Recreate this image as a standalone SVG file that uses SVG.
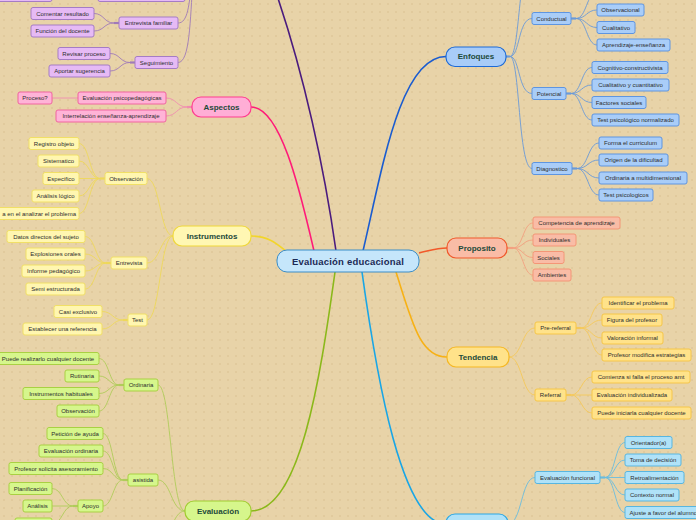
<svg xmlns="http://www.w3.org/2000/svg" width="696" height="520" viewBox="0 0 696 520">
<defs>
<pattern id="dots" width="8" height="8" patternUnits="userSpaceOnUse"><circle cx="4" cy="4" r="0.8" fill="#d8bf90"/></pattern>
<style>
.t{font-family:"Liberation Sans",Arial,sans-serif;font-size:6px;fill:#2d2d2d;text-anchor:middle;dominant-baseline:central}
.mt{font-family:"Liberation Sans",Arial,sans-serif;font-size:8px;font-weight:bold;fill:#1e4a3a;text-anchor:middle;dominant-baseline:central}
.ct{font-family:"Liberation Sans",Arial,sans-serif;font-size:9.5px;font-weight:bold;fill:#1c2a55;text-anchor:middle;dominant-baseline:central;letter-spacing:0.2px}
rect{stroke-width:1}
.pu{fill:#e6baf5;stroke:#a57cc4}
.pk{fill:#ffb3d7;stroke:#f0659f}
.pkm{fill:#ffaed6;stroke:#ff3c90;stroke-width:1.2}
.ye{fill:#fff6b0;stroke:#f1df66}
.yem{fill:#fff7b3;stroke:#f0d83a;stroke-width:1.2}
.gr{fill:#d6f68c;stroke:#a9d043}
.grm{fill:#d6f68c;stroke:#a0cc30;stroke-width:1.2}
.bl{fill:#a9cdf8;stroke:#5e95e0}
.blm{fill:#a8ccf8;stroke:#1d6ad6;stroke-width:1.2}
.or{fill:#f9bca6;stroke:#f49676}
.orm{fill:#f9bca6;stroke:#f0582a;stroke-width:1.2}
.ta{fill:#ffe28a;stroke:#f6c649}
.tam{fill:#ffe28a;stroke:#f6b823;stroke-width:1.2}
.cy{fill:#b0e2f8;stroke:#58b6e0}
.cym{fill:#b0e2f8;stroke:#2aa8e6;stroke-width:1.2}
#connectors path{fill:none}
.c-pu{stroke:#a07ab8;stroke-width:0.9}
.c-pk{stroke:#f08cb0;stroke-width:0.9}
.c-ye{stroke:#eed85a;stroke-width:0.9}
.c-gr{stroke:#b0cc5a;stroke-width:0.9}
.c-bl{stroke:#6a9ad8;stroke-width:0.9}
.c-or{stroke:#f3a080;stroke-width:0.9}
.c-ta{stroke:#f5c85a;stroke-width:0.9}
.c-cy{stroke:#6abcdf;stroke-width:0.9}
.k{stroke-width:2.2!important}
</style>
</defs>
<rect x="0" y="0" width="696" height="520" fill="#e8d3a8"/>
<rect x="0" y="0" width="696" height="520" fill="url(#dots)"/>

<g id="connectors">
<!-- main branches -->
<path d="M336,251 C326,180 305,70 268,-30" stroke="#4b1b7e" stroke-width="1.6"/>
<path d="M251,107 C282,107 302,200 314,251" stroke="#ff1a78" stroke-width="1.6"/>
<path d="M251,236 C268,236 276,243 286,251" stroke="#f2d52a" stroke-width="1.6"/>
<path d="M363,251 C382,170 400,56.5 446,56.5" stroke="#1a5cd0" stroke-width="1.6"/>
<path d="M419,253 C432,250 437,248 447,248" stroke="#f2592a" stroke-width="1.6"/>
<path d="M396,272 C412,322 420,357 447,357" stroke="#f7b115" stroke-width="1.6"/>
<path d="M335,272 C320,380 300,511 251,511" stroke="#8bb81a" stroke-width="1.6"/>
<path d="M362,272 C377,380 402,524 446,524" stroke="#19a6e6" stroke-width="1.6"/>

<!-- purple -->
<path class="c-pu" d="M178,23 C188,23 189,5 192,-20"/>
<path class="c-pu" d="M178,62.5 C190,62.5 190,20 193,-20"/>
<path class="c-pu k" d="M119,23 H114"/>
<path class="c-pu" d="M114,23 C104,23 104,13.5 94,13.5"/>
<path class="c-pu" d="M114,23 C104,23 104,31 94,31"/>
<path class="c-pu k" d="M135,62.5 H130"/>
<path class="c-pu" d="M130,62.5 C120,62.5 120,53.5 110,53.5"/>
<path class="c-pu" d="M130,62.5 C120,62.5 120,71 110,71"/>

<!-- pink -->
<path class="c-pk k" d="M192,107 H187"/>
<path class="c-pk" d="M187,107 C176.5,107 176.5,98 166,98"/>
<path class="c-pk" d="M187,107 C176.5,107 176.5,116 166,116"/>
<path class="c-pk" d="M78,98 H52"/>

<!-- yellow -->
<path class="c-ye" d="M173,236 C160,236 160,178.5 147,178.5"/>
<path class="c-ye" d="M173,236 C160,236 160,263 147,263"/>
<path class="c-ye" d="M173,236 C160,236 160,320 147,320"/>
<path class="c-ye k" d="M105,178.5 H100"/>
<path class="c-ye" d="M100,178.5 C89.5,178.5 89.5,143.5 79,143.5"/>
<path class="c-ye" d="M100,178.5 C89.5,178.5 89.5,161 79,161"/>
<path class="c-ye" d="M100,178.5 H79"/>
<path class="c-ye" d="M100,178.5 C89.5,178.5 89.5,196 79,196"/>
<path class="c-ye" d="M100,178.5 C89.5,178.5 89.5,213.5 79,213.5"/>
<path class="c-ye k" d="M111,263 H106"/>
<path class="c-ye" d="M106,263 C95.5,263 95.5,236.5 85,236.5"/>
<path class="c-ye" d="M106,263 C95.5,263 95.5,254 85,254"/>
<path class="c-ye" d="M106,263 C95.5,263 95.5,271 85,271"/>
<path class="c-ye" d="M106,263 C95.5,263 95.5,289 85,289"/>
<path class="c-ye k" d="M128,320 H123"/>
<path class="c-ye" d="M123,320 C112.5,320 112.5,311.5 102,311.5"/>
<path class="c-ye" d="M123,320 C112.5,320 112.5,329 102,329"/>

<!-- green -->
<path class="c-gr" d="M185,511 C171,511 171,385 158,385"/>
<path class="c-gr" d="M185,511 C171,511 171,480 158,480"/>
<path class="c-gr" d="M185,511 C171,511 171,545 158,545"/>
<path class="c-gr k" d="M124,385 H119"/>
<path class="c-gr" d="M119,385 C109,385 109,358.5 99,358.5"/>
<path class="c-gr" d="M119,385 C109,385 109,376 99,376"/>
<path class="c-gr" d="M119,385 C109,385 109,393.5 99,393.5"/>
<path class="c-gr" d="M119,385 C109,385 109,411 99,411"/>
<path class="c-gr k" d="M128,480 H123"/>
<path class="c-gr" d="M123,480 C113,480 113,433.5 103,433.5"/>
<path class="c-gr" d="M123,480 C113,480 113,451 103,451"/>
<path class="c-gr" d="M123,480 C113,480 113,468.5 103,468.5"/>
<path class="c-gr" d="M123,480 C113,480 113,506 103,506"/>
<path class="c-gr k" d="M78,506 H73"/>
<path class="c-gr" d="M73,506 C62.5,506 62.5,488.5 52,488.5"/>
<path class="c-gr" d="M73,506 H52"/>
<path class="c-gr" d="M73,506 C62.5,506 62.5,524 52,524"/>

<!-- blue -->
<path class="c-bl k" d="M506,56.5 H510"/>
<path class="c-bl" d="M510,56.5 C520,56.5 518,-40 532,-40"/>
<path class="c-bl" d="M510,56.5 C520,56.5 518,18.5 532,18.5"/>
<path class="c-bl" d="M510,56.5 C520,56.5 518,93.5 532,93.5"/>
<path class="c-bl" d="M510,56.5 C520,56.5 518,168.5 532,168.5"/>
<path class="c-bl k" d="M571,18.5 H576"/>
<path class="c-bl" d="M576,18.5 C586.5,18.5 586.5,-7.5 597,-7.5"/>
<path class="c-bl" d="M576,18.5 C586.5,18.5 586.5,10 597,10"/>
<path class="c-bl" d="M576,18.5 C586.5,18.5 586.5,27.5 597,27.5"/>
<path class="c-bl" d="M576,18.5 C586.5,18.5 586.5,45 597,45"/>
<path class="c-bl k" d="M566,93.5 H571"/>
<path class="c-bl" d="M571,93.5 C581.5,93.5 581.5,67.5 592,67.5"/>
<path class="c-bl" d="M571,93.5 C581.5,93.5 581.5,85 592,85"/>
<path class="c-bl" d="M571,93.5 C581.5,93.5 581.5,102.5 592,102.5"/>
<path class="c-bl" d="M571,93.5 C581.5,93.5 581.5,120 592,120"/>
<path class="c-bl k" d="M572,168.5 H577"/>
<path class="c-bl" d="M577,168.5 C588,168.5 588,143 599,143"/>
<path class="c-bl" d="M577,168.5 C588,168.5 588,160 599,160"/>
<path class="c-bl" d="M577,168.5 C588,168.5 588,178 599,178"/>
<path class="c-bl" d="M577,168.5 C588,168.5 588,195 599,195"/>

<!-- proposito -->
<path class="c-or k" d="M507,248 H513"/>
<path class="c-or" d="M513,248 C523,248 523,223 533,223"/>
<path class="c-or" d="M513,248 C523,248 523,240 533,240"/>
<path class="c-or" d="M513,248 C523,248 523,257.5 533,257.5"/>
<path class="c-or" d="M513,248 C523,248 523,275 533,275"/>

<!-- tendencia -->
<path class="c-ta" d="M509,357 C522,357 522,328 535,328"/>
<path class="c-ta" d="M509,357 C522,357 522,395 535,395"/>
<path class="c-ta k" d="M576,328 H581"/>
<path class="c-ta" d="M581,328 C591.5,328 591.5,303 602,303"/>
<path class="c-ta" d="M581,328 C591.5,328 591.5,320 602,320"/>
<path class="c-ta" d="M581,328 C591.5,328 591.5,338 602,338"/>
<path class="c-ta" d="M581,328 C591.5,328 591.5,355 602,355"/>
<path class="c-ta k" d="M566,395 H571"/>
<path class="c-ta" d="M571,395 C581.5,395 581.5,377 592,377"/>
<path class="c-ta" d="M571,395 H592"/>
<path class="c-ta" d="M571,395 C581.5,395 581.5,413 592,413"/>

<!-- cyan -->
<path class="c-cy" d="M508,524 C522,524 521,477.5 535,477.5"/>
<path class="c-cy k" d="M600,477.5 H605"/>
<path class="c-cy" d="M605,477.5 C615,477.5 615,442.5 625,442.5"/>
<path class="c-cy" d="M605,477.5 C615,477.5 615,460 625,460"/>
<path class="c-cy" d="M605,477.5 H625"/>
<path class="c-cy" d="M605,477.5 C615,477.5 615,495 625,495"/>
<path class="c-cy" d="M605,477.5 C615,477.5 615,512.5 625,512.5"/>
</g>

<!-- central -->
<g id="central"><rect x="277" y="250" width="142" height="22" rx="10" fill="#c5e6fb" stroke="#3a8dc8" stroke-width="1.3"/><text class="ct" x="348" y="261">Evaluación educacional</text></g>

<!-- purple branch -->
<g id="pu-clip1"><rect class="pu" x="-5" y="-11" width="57" height="12.5" rx="2"/></g>
<g id="pu-clip2"><rect class="pu" x="98" y="-11" width="87" height="12.5" rx="2"/></g>
<g id="entrevista-familiar"><rect class="pu" x="119" y="17" width="59" height="12" rx="2"/><text class="t" x="148.5" y="23">Entrevista familiar</text></g>
<g id="seguimiento"><rect class="pu" x="135" y="56.5" width="43" height="12" rx="2"/><text class="t" x="156.5" y="62.5">Seguimiento</text></g>
<g id="comentar-resultado"><rect class="pu" x="31" y="7.5" width="63" height="12" rx="2"/><text class="t" x="62.5" y="13.5">Comentar resultado</text></g>
<g id="funcion-docente"><rect class="pu" x="31" y="25" width="63" height="12" rx="2"/><text class="t" x="62.5" y="31">Función del docente</text></g>
<g id="revisar-proceso"><rect class="pu" x="58" y="47.5" width="52" height="12" rx="2"/><text class="t" x="84" y="53.5">Revisar proceso</text></g>
<g id="aportar-sugerencia"><rect class="pu" x="49" y="65" width="61" height="12" rx="2"/><text class="t" x="79.5" y="71">Aportar sugerencia</text></g>

<!-- pink branch -->
<g id="aspectos"><rect class="pkm" x="192" y="97" width="59" height="20" rx="9"/><text class="mt" x="221.5" y="107">Aspectos</text></g>
<g id="eval-psico"><rect class="pk" x="78" y="92" width="88" height="12" rx="2"/><text class="t" x="122" y="98">Evaluación psicopedagógicas</text></g>
<g id="interrelacion"><rect class="pk" x="56" y="110" width="110" height="12" rx="2"/><text class="t" x="111" y="116">Interrelación enseñanza-aprendizaje</text></g>
<g id="proceso"><rect class="pk" x="18" y="92" width="34" height="12" rx="2"/><text class="t" x="35" y="98">Proceso?</text></g>

<!-- yellow branch -->
<g id="instrumentos"><rect class="yem" x="173" y="226" width="78" height="20" rx="9"/><text class="mt" x="212" y="236">Instrumentos</text></g>
<g id="observacion"><rect class="ye" x="105" y="172.5" width="42" height="12" rx="2"/><text class="t" x="126" y="178.5">Observación</text></g>
<g id="entrevista"><rect class="ye" x="111" y="257" width="36" height="12" rx="2"/><text class="t" x="129" y="263">Entrevista</text></g>
<g id="test"><rect class="ye" x="128" y="314" width="19" height="12" rx="2"/><text class="t" x="137.5" y="320">Test</text></g>
<g id="registro-objeto"><rect class="ye" x="29" y="137.5" width="50" height="12" rx="2"/><text class="t" x="54" y="143.5">Registro objeto</text></g>
<g id="sistematico"><rect class="ye" x="38" y="155" width="41" height="12" rx="2"/><text class="t" x="58.5" y="161">Sistematico</text></g>
<g id="especifico"><rect class="ye" x="43" y="172.5" width="36" height="12" rx="2"/><text class="t" x="61" y="178.5">Especifico</text></g>
<g id="analisis-logico"><rect class="ye" x="32" y="190" width="47" height="12" rx="2"/><text class="t" x="55.5" y="196">Análisis lógico</text></g>
<g id="analizar-problema"><rect class="ye" x="-10" y="207.5" width="89" height="12" rx="2"/><text class="t" x="76" y="213.5" style="text-anchor:end">a en el analizar el problema</text></g>
<g id="datos-directos"><rect class="ye" x="7" y="230.5" width="78" height="12" rx="2"/><text class="t" x="46" y="236.5">Datos directos del sujeto</text></g>
<g id="explosiones-orales"><rect class="ye" x="26" y="248" width="59" height="12" rx="2"/><text class="t" x="55.5" y="254">Explosiones orales</text></g>
<g id="informe-pedagogico"><rect class="ye" x="22" y="265" width="63" height="12" rx="2"/><text class="t" x="53.5" y="271">Informe pedagógico</text></g>
<g id="semi-estructurada"><rect class="ye" x="26" y="283" width="59" height="12" rx="2"/><text class="t" x="55.5" y="289">Semi estructurada</text></g>
<g id="casi-exclusivo"><rect class="ye" x="54" y="305.5" width="48" height="12" rx="2"/><text class="t" x="78" y="311.5">Casi exclusivo</text></g>
<g id="establecer-referencia"><rect class="ye" x="23" y="323" width="79" height="12" rx="2"/><text class="t" x="62.5" y="329">Establecer una referencia</text></g>

<!-- green branch -->
<g id="evaluacion"><rect class="grm" x="185" y="501" width="66" height="20" rx="9"/><text class="mt" x="218" y="511">Evaluación</text></g>
<g id="ordinaria"><rect class="gr" x="124" y="379" width="34" height="12" rx="2"/><text class="t" x="141" y="385">Ordinaria</text></g>
<g id="asistida"><rect class="gr" x="128" y="474" width="30" height="12" rx="2"/><text class="t" x="143" y="480">asistida</text></g>
<g id="apoyo"><rect class="gr" x="78" y="500" width="25" height="12" rx="2"/><text class="t" x="90.5" y="506">Apoyo</text></g>
<g id="puede-realizarlo"><rect class="gr" x="-3" y="352.5" width="102" height="12" rx="2"/><text class="t" x="48" y="358.5">Puede realizarlo cualquier docente</text></g>
<g id="rutinaria"><rect class="gr" x="65" y="370" width="34" height="12" rx="2"/><text class="t" x="82" y="376">Rutinaria</text></g>
<g id="instrumentos-habituales"><rect class="gr" x="23" y="387.5" width="76" height="12" rx="2"/><text class="t" x="61" y="393.5">Instrumentos habituales</text></g>
<g id="observacion-2"><rect class="gr" x="57" y="405" width="42" height="12" rx="2"/><text class="t" x="78" y="411">Observación</text></g>
<g id="peticion-ayuda"><rect class="gr" x="47" y="427.5" width="56" height="12" rx="2"/><text class="t" x="75" y="433.5">Petición de ayuda</text></g>
<g id="evaluacion-ordinaria"><rect class="gr" x="39" y="445" width="64" height="12" rx="2"/><text class="t" x="71" y="451">Evaluación ordinaria</text></g>
<g id="profesor-solicita"><rect class="gr" x="9" y="462.5" width="94" height="12" rx="2"/><text class="t" x="56" y="468.5">Profesor solicita asesoramiento</text></g>
<g id="planificacion"><rect class="gr" x="9" y="482.5" width="43" height="12" rx="2"/><text class="t" x="30.5" y="488.5">Planificación</text></g>
<g id="analisis"><rect class="gr" x="23" y="500" width="29" height="12" rx="2"/><text class="t" x="37.5" y="506">Análisis</text></g>
<g id="apoyo-3"><rect class="gr" x="15" y="518" width="37" height="12" rx="2"/></g>

<!-- blue branch -->
<g id="enfoques"><rect class="blm" x="446" y="47" width="60" height="19.5" rx="9"/><text class="mt" x="476" y="56.5">Enfoques</text></g>
<g id="conductual"><rect class="bl" x="532" y="12.5" width="39" height="12" rx="2"/><text class="t" x="551.5" y="18.5">Conductual</text></g>
<g id="potencial"><rect class="bl" x="532" y="87.5" width="34" height="12" rx="2"/><text class="t" x="549" y="93.5">Potencial</text></g>
<g id="diagnostico"><rect class="bl" x="532" y="162.5" width="40" height="12" rx="2"/><text class="t" x="552" y="168.5">Diagnostico</text></g>
<g id="observacional"><rect class="bl" x="597" y="4" width="47" height="12" rx="2"/><text class="t" x="620.5" y="10">Observacional</text></g>
<g id="cualitativo"><rect class="bl" x="597" y="21.5" width="38" height="12" rx="2"/><text class="t" x="616" y="27.5">Cualitativo</text></g>
<g id="aprendizaje-ensenanza"><rect class="bl" x="597" y="39" width="73" height="12" rx="2"/><text class="t" x="633.5" y="45">Aprendizaje-enseñanza</text></g>
<g id="cognitivo"><rect class="bl" x="592" y="61.5" width="76" height="12" rx="2"/><text class="t" x="630" y="67.5">Cognitivo-constructivista</text></g>
<g id="cual-cuant"><rect class="bl" x="592" y="79" width="77" height="12" rx="2"/><text class="t" x="630.5" y="85">Cualitativo y cuantitativo</text></g>
<g id="factores-sociales"><rect class="bl" x="592" y="96.5" width="54" height="12" rx="2"/><text class="t" x="619" y="102.5">Factores sociales</text></g>
<g id="test-normalizado"><rect class="bl" x="592" y="114" width="87" height="12" rx="2"/><text class="t" x="635.5" y="120">Test psicológico normalizado</text></g>
<g id="forma-curriculum"><rect class="bl" x="599" y="137" width="63" height="12" rx="2"/><text class="t" x="630.5" y="143">Forma el curriculum</text></g>
<g id="origen-dificultad"><rect class="bl" x="599" y="154" width="69" height="12" rx="2"/><text class="t" x="633.5" y="160">Origen de la dificultad</text></g>
<g id="ordinaria-multi"><rect class="bl" x="599" y="172" width="88" height="12" rx="2"/><text class="t" x="643" y="178">Ordinaria a multidimensional</text></g>
<g id="test-psicologicos"><rect class="bl" x="599" y="189" width="54" height="12" rx="2"/><text class="t" x="626" y="195">Test psicologicos</text></g>

<!-- proposito branch -->
<g id="proposito"><rect class="orm" x="447" y="238" width="60" height="20" rx="9"/><text class="mt" x="477" y="248">Proposito</text></g>
<g id="competencia"><rect class="or" x="533" y="217" width="87" height="12" rx="2"/><text class="t" x="576.5" y="223">Competencia de aprendizaje</text></g>
<g id="individuales"><rect class="or" x="533" y="234" width="43" height="12" rx="2"/><text class="t" x="554.5" y="240">Individuales</text></g>
<g id="sociales"><rect class="or" x="533" y="251.5" width="31" height="12" rx="2"/><text class="t" x="548.5" y="257.5">Sociales</text></g>
<g id="ambientes"><rect class="or" x="533" y="269" width="38" height="12" rx="2"/><text class="t" x="552" y="275">Ambientes</text></g>

<!-- tendencia branch -->
<g id="tendencia"><rect class="tam" x="447" y="347" width="62" height="20" rx="9"/><text class="mt" x="478" y="357">Tendencia</text></g>
<g id="pre-referral"><rect class="ta" x="535" y="322" width="41" height="12" rx="2"/><text class="t" x="555.5" y="328">Pre-referral</text></g>
<g id="referral"><rect class="ta" x="535" y="389" width="31" height="12" rx="2"/><text class="t" x="550.5" y="395">Referral</text></g>
<g id="identificar"><rect class="ta" x="602" y="297" width="72" height="12" rx="2"/><text class="t" x="638" y="303">Identificar el problema</text></g>
<g id="figura"><rect class="ta" x="602" y="314" width="60" height="12" rx="2"/><text class="t" x="632" y="320">Figura del profesor</text></g>
<g id="valoracion"><rect class="ta" x="602" y="332" width="61" height="12" rx="2"/><text class="t" x="632.5" y="338">Valoración informal</text></g>
<g id="profesor-modifica"><rect class="ta" x="602" y="349" width="89" height="12" rx="2"/><text class="t" x="646.5" y="355">Profesor modifica estrategias</text></g>
<g id="comienza"><rect class="ta" x="592" y="371" width="98" height="12" rx="2"/><text class="t" x="641" y="377">Comienza si falla el proceso amt</text></g>
<g id="eval-individualizada"><rect class="ta" x="592" y="389" width="80" height="12" rx="2"/><text class="t" x="632" y="395">Evaluación individualizada</text></g>
<g id="puede-iniciarla"><rect class="ta" x="592" y="407" width="99" height="12" rx="2"/><text class="t" x="641.5" y="413">Puede iniciarla cualquier docente</text></g>

<!-- cyan branch -->
<g id="cyan-main"><rect class="cym" x="446" y="514" width="62" height="20" rx="9"/></g>
<g id="eval-funcional"><rect class="cy" x="535" y="471.5" width="65" height="12" rx="2"/><text class="t" x="567.5" y="477.5">Evaluación funcional</text></g>
<g id="orientador"><rect class="cy" x="625" y="436.5" width="47" height="12" rx="2"/><text class="t" x="648.5" y="442.5">Orientador(a)</text></g>
<g id="toma-decision"><rect class="cy" x="625" y="454" width="56" height="12" rx="2"/><text class="t" x="653" y="460">Toma de decisión</text></g>
<g id="retroalimentacion"><rect class="cy" x="625" y="471.5" width="59" height="12" rx="2"/><text class="t" x="654.5" y="477.5">Retroalimentación</text></g>
<g id="contexto-normal"><rect class="cy" x="625" y="489" width="54" height="12" rx="2"/><text class="t" x="652" y="495">Contexto normal</text></g>
<g id="ajuste"><rect class="cy" x="625" y="506.5" width="95" height="12" rx="2"/><text class="t" x="629.5" y="512.5" style="text-anchor:start">Ajuste a favor del alumno</text></g>
</svg>
